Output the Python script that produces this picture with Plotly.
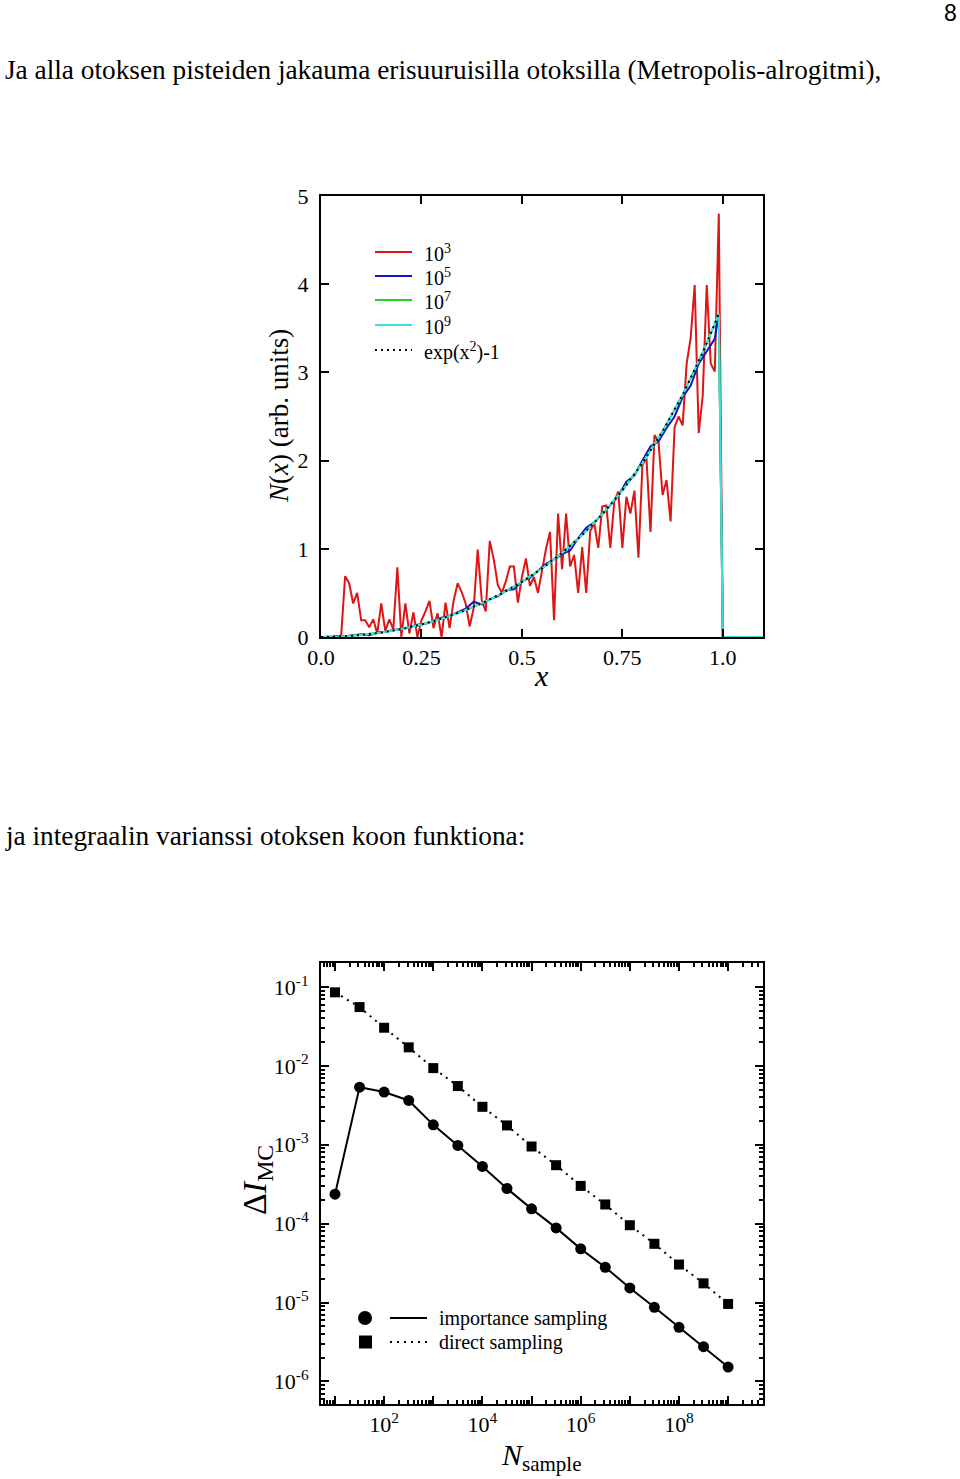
import plotly.graph_objects as go

W, H = 960, 1479
SERIF = "Liberation Serif, Times New Roman, serif"

# ---------------- Top chart data: N(x) histograms ----------------
bin_x = [round(i * 0.01, 2) for i in range(111)]

N_1e3 = [0, 0, 0, 0, 0, 0, 0.69, 0.61, 0.38, 0.50,
         0.19, 0.19, 0.11, 0.20, 0.04, 0.38, 0.07, 0.20, 0.09, 0.79,
         0, 0.38, 0.04, 0.28, 0, 0.19, 0.29, 0.41, 0.10, 0.27,
         0, 0.39, 0.10, 0.41, 0.61, 0.51, 0.38, 0.12, 0.33, 0.99,
         0.42, 0.29, 1.09, 0.88, 0.59, 0.50, 0.63, 0.80, 0.80, 0.39,
         0.68, 0.89, 0.58, 0.68, 0.50, 0.76, 1.00, 1.19, 0.19, 1.40,
         0.77, 1.40, 0.80, 0.93, 0.50, 1.02, 0.50, 1.20, 1.29, 1.01,
         1.48, 1.49, 1.01, 1.54, 1.65, 1.01, 1.59, 1.40, 1.66, 0.90,
         1.95, 2.03, 1.19, 2.29, 2.21, 1.61, 1.78, 1.31, 2.38, 2.50,
         2.40, 3.10, 3.39, 3.99, 2.31, 2.74, 3.99, 3.10, 3.01, 4.80,
         0, 0, 0, 0, 0, 0, 0, 0, 0, 0, 0]

x_1e5 = [0.00, 0.02, 0.04, 0.06, 0.08, 0.10, 0.12, 0.14, 0.16, 0.18,
         0.20, 0.22, 0.24, 0.26, 0.28, 0.30, 0.32, 0.34, 0.36, 0.38,
         0.40, 0.42, 0.44, 0.46, 0.48, 0.50, 0.52, 0.54, 0.56, 0.58,
         0.60, 0.62, 0.64, 0.66, 0.68, 0.70, 0.72, 0.74, 0.76, 0.78,
         0.80, 0.82, 0.84, 0.86, 0.88, 0.90, 0.92, 0.94, 0.96, 0.98,
         0.99, 1.00, 1.10]
N_1e5 = [0, 0.00, 0.01, 0.01, 0.02, 0.03, 0.02, 0.05, 0.06, 0.08,
         0.09, 0.11, 0.14, 0.15, 0.18, 0.22, 0.24, 0.28, 0.32, 0.40,
         0.37, 0.43, 0.46, 0.53, 0.54, 0.63, 0.67, 0.75, 0.83, 0.88,
         0.94, 0.98, 1.12, 1.24, 1.30, 1.39, 1.50, 1.60, 1.76, 1.83,
         2.00, 2.16, 2.22, 2.37, 2.50, 2.72, 2.85, 3.10, 3.24, 3.38,
         3.66, 0, 0]

x_fine = [0.00, 0.05, 0.10, 0.15, 0.20, 0.25, 0.30, 0.35, 0.40, 0.45,
          0.50, 0.55, 0.60, 0.65, 0.70, 0.75, 0.80, 0.85, 0.90, 0.95,
          0.99, 1.00, 1.10]
N_1e7 = [0, 0.006, 0.023, 0.050, 0.091, 0.142, 0.208, 0.287, 0.382, 0.495,
         0.626, 0.777, 0.954, 1.157, 1.392, 1.662, 1.972, 2.332, 2.744, 3.226,
         3.66, 0, 0]
N_1e9 = [0, 0.005, 0.022, 0.050, 0.090, 0.142, 0.207, 0.287, 0.382, 0.494,
         0.625, 0.777, 0.953, 1.157, 1.391, 1.661, 1.972, 2.331, 2.745, 3.225,
         3.66, 0, 0]

x_exact = [0.00, 0.05, 0.10, 0.15, 0.20, 0.25, 0.30, 0.35, 0.40, 0.45,
           0.50, 0.55, 0.60, 0.65, 0.70, 0.75, 0.80, 0.85, 0.90, 0.95, 0.99]
N_exact = [0, 0.0055, 0.0221, 0.0501, 0.0898, 0.1419, 0.2072, 0.2867, 0.3817, 0.4938,
           0.6249, 0.7771, 0.9533, 1.1567, 1.3911, 1.6611, 1.9723, 2.3313, 2.7454, 3.2248,
           3.662]

top_xticks = [0.0, 0.25, 0.5, 0.75, 1.0]
top_xticklabels = ["0.0", "0.25", "0.5", "0.75", "1.0"]
top_yticks = [0, 1, 2, 3, 4, 5]
top_legend = ["10<sup>3</sup>", "10<sup>5</sup>", "10<sup>7</sup>", "10<sup>9</sup>",
              "exp(x<sup>2</sup>)-1"]

# ---------------- Bottom chart data: variance vs sample size ----------------
N_sample = [1e1, 3.16e1, 1e2, 3.16e2, 1e3, 3.16e3, 1e4, 3.16e4, 1e5,
            3.16e5, 1e6, 3.16e6, 1e7, 3.16e7, 1e8, 3.16e8, 1e9]
dI_importance = [2.36e-4, 5.38e-3, 4.66e-3, 3.65e-3, 1.79e-3, 9.8e-4, 5.31e-4, 2.79e-4, 1.54e-4,
                 8.83e-5, 4.79e-5, 2.80e-5, 1.53e-5, 8.69e-6, 4.84e-6, 2.75e-6, 1.52e-6]
dI_direct = [8.57e-2, 5.57e-2, 3.05e-2, 1.72e-2, 9.38e-3, 5.55e-3, 3.03e-3, 1.76e-3, 9.51e-4,
             5.51e-4, 3.01e-4, 1.75e-4, 9.55e-5, 5.55e-5, 3.03e-5, 1.75e-5, 9.59e-6]

bot_xtickvals = [1e1, 1e2, 1e3, 1e4, 1e5, 1e6, 1e7, 1e8, 1e9]
bot_xticktext = ["", "10<sup>2</sup>", "", "10<sup>4</sup>", "", "10<sup>6</sup>", "",
                 "10<sup>8</sup>", ""]
bot_ytickvals = [1e-1, 1e-2, 1e-3, 1e-4, 1e-5, 1e-6]
bot_yticktext = ["10<sup>-1</sup>", "10<sup>-2</sup>", "10<sup>-3</sup>", "10<sup>-4</sup>",
                 "10<sup>-5</sup>", "10<sup>-6</sup>"]
bot_legend = ["importance sampling", "direct sampling"]

# ---------------- helpers ----------------
def px(x):
    return x / W


def py(y):
    return 1 - y / H


PLOT_L, PLOT_R = 321, 763
TOP_T, TOP_B = 196, 637
BOT_T, BOT_B = 963, 1404

RED, BLUE, GREEN, CYAN = "#dd1515", "#1414c4", "#22d422", "#3fdede"
top_colors = [RED, BLUE, GREEN, CYAN, "black"]

fig = go.Figure()

fig.add_trace(go.Scatter(x=bin_x, y=N_1e3, mode="lines", name=top_legend[0],
                         line=dict(color=RED, width=2), xaxis="x", yaxis="y"))
fig.add_trace(go.Scatter(x=x_1e5, y=N_1e5, mode="lines", name=top_legend[1],
                         line=dict(color=BLUE, width=2), xaxis="x", yaxis="y"))
fig.add_trace(go.Scatter(x=x_fine, y=N_1e7, mode="lines", name=top_legend[2],
                         line=dict(color=GREEN, width=2), xaxis="x", yaxis="y"))
fig.add_trace(go.Scatter(x=x_fine, y=N_1e9, mode="lines", name=top_legend[3],
                         line=dict(color=CYAN, width=2), xaxis="x", yaxis="y"))
fig.add_trace(go.Scatter(x=x_exact, y=N_exact, mode="lines", name=top_legend[4],
                         line=dict(color="black", width=2, dash="2px,4px"),
                         xaxis="x", yaxis="y"))

fig.add_trace(go.Scatter(x=N_sample, y=dI_direct, mode="lines+markers",
                         name=bot_legend[1],
                         line=dict(color="black", width=2, dash="2px,5px"),
                         marker=dict(symbol="square", size=10, color="black"),
                         xaxis="x2", yaxis="y2"))
fig.add_trace(go.Scatter(x=N_sample, y=dI_importance, mode="lines+markers",
                         name=bot_legend[0],
                         line=dict(color="black", width=2),
                         marker=dict(symbol="circle", size=11, color="black"),
                         xaxis="x2", yaxis="y2"))

axis_common = dict(showline=True, linecolor="black", linewidth=2, mirror="ticks",
                   ticks="inside", ticklen=8, tickwidth=2, tickcolor="black",
                   showgrid=False, zeroline=False, automargin=False,
                   tickfont=dict(family=SERIF, size=22, color="black"))

minor_x = [k * 10 ** d for d in range(0, 10) for k in range(2, 10)]
minor_y = [k * 10.0 ** d for d in range(-7, 0) for k in range(2, 10)]

fig.update_layout(
    width=W, height=H,
    margin=dict(l=0, r=0, t=0, b=0, autoexpand=False),
    paper_bgcolor="white", plot_bgcolor="white",
    font=dict(family=SERIF, color="black"),
    showlegend=False,
    xaxis=dict(domain=[px(PLOT_L), px(PLOT_R)], anchor="y", range=[0, 1.1],
               tickmode="array", tickvals=top_xticks, ticktext=top_xticklabels,
               ticklabelstandoff=0, **axis_common),
    yaxis=dict(domain=[py(TOP_B), py(TOP_T)], anchor="x", range=[0, 5],
               tickmode="array", tickvals=top_yticks, ticklabelstandoff=6,
               **axis_common),
    xaxis2=dict(domain=[px(PLOT_L), px(PLOT_R)], anchor="y2", type="log",
                range=[0.715, 9.71], tickmode="array", tickvals=bot_xtickvals,
                ticktext=bot_xticktext, ticklabelstandoff=0,
                minor=dict(tickmode="array", tickvals=minor_x, ticks="inside",
                           ticklen=4, tickwidth=1.5, tickcolor="black", showgrid=False),
                **axis_common),
    yaxis2=dict(domain=[py(BOT_B), py(BOT_T)], anchor="x2", type="log",
                range=[-6.287, -0.695], tickmode="array", tickvals=bot_ytickvals,
                ticktext=bot_yticktext, ticklabelstandoff=6,
                minor=dict(tickmode="array", tickvals=minor_y, ticks="inside",
                           ticklen=4, tickwidth=1.5, tickcolor="black", showgrid=False),
                **axis_common),
)

ann = []


def text(x, y, s, size, xanchor="center", yanchor="middle", family=SERIF, **kw):
    d = dict(x=px(x), y=py(y), xref="paper", yref="paper", text=s, showarrow=False,
             xanchor=xanchor, yanchor=yanchor, borderpad=0,
             font=dict(family=family, size=size, color="black"))
    d.update(kw)
    ann.append(d)


text(950, 13, "8", 23, family="Liberation Sans, Arial, sans-serif")
text(4, 70, "Ja alla otoksen pisteiden jakauma erisuuruisilla otoksilla (Metropolis-alrogitmi),",
     27.3, xanchor="left")
text(4, 836, "ja integraalin varianssi otoksen koon funktiona:", 27.3, xanchor="left")
text(279, 416, "<i>N</i>(<i>x</i>) (arb. units)", 27, textangle=-90)
text(541, 676, "<i>x</i>", 30)
text(257, 1180, "Δ<i>I</i><sub>MC</sub>", 34, textangle=-90)
text(541, 1457, "<i>N</i><sub>sample</sub>", 30)

shapes = []

# Top legend (hand drawn key, as in the original)
top_leg_y = [252, 276, 300, 325, 350]
for i, (lab, col) in enumerate(zip(top_legend, top_colors)):
    yy = top_leg_y[i]
    dash = "2px,4px" if i == 4 else "solid"
    shapes.append(dict(type="line", xref="paper", yref="paper",
                       x0=px(375), x1=px(412), y0=py(yy), y1=py(yy),
                       line=dict(color=col, width=2, dash=dash)))
    text(423, yy + 1, lab, 20, xanchor="left")

# Bottom legend
shapes.append(dict(type="circle", xref="paper", yref="paper",
                   x0=px(358), x1=px(372), y0=py(1325), y1=py(1311),
                   fillcolor="black", line=dict(color="black", width=0)))
shapes.append(dict(type="rect", xref="paper", yref="paper",
                   x0=px(359), x1=px(372), y0=py(1348.5), y1=py(1335.5),
                   fillcolor="black", line=dict(color="black", width=0)))
shapes.append(dict(type="line", xref="paper", yref="paper",
                   x0=px(390), x1=px(427), y0=py(1318), y1=py(1318),
                   line=dict(color="black", width=2)))
shapes.append(dict(type="line", xref="paper", yref="paper",
                   x0=px(390), x1=px(427), y0=py(1342), y1=py(1342),
                   line=dict(color="black", width=2, dash="2px,5px")))
text(438, 1318, bot_legend[0], 20, xanchor="left")
text(438, 1342, bot_legend[1], 20, xanchor="left")

fig.update_layout(annotations=ann, shapes=shapes)

fig.write_html("out.html", config={"displayModeBar": False},
               post_script="document.body.style.margin='0';document.body.style.overflow='hidden';")
